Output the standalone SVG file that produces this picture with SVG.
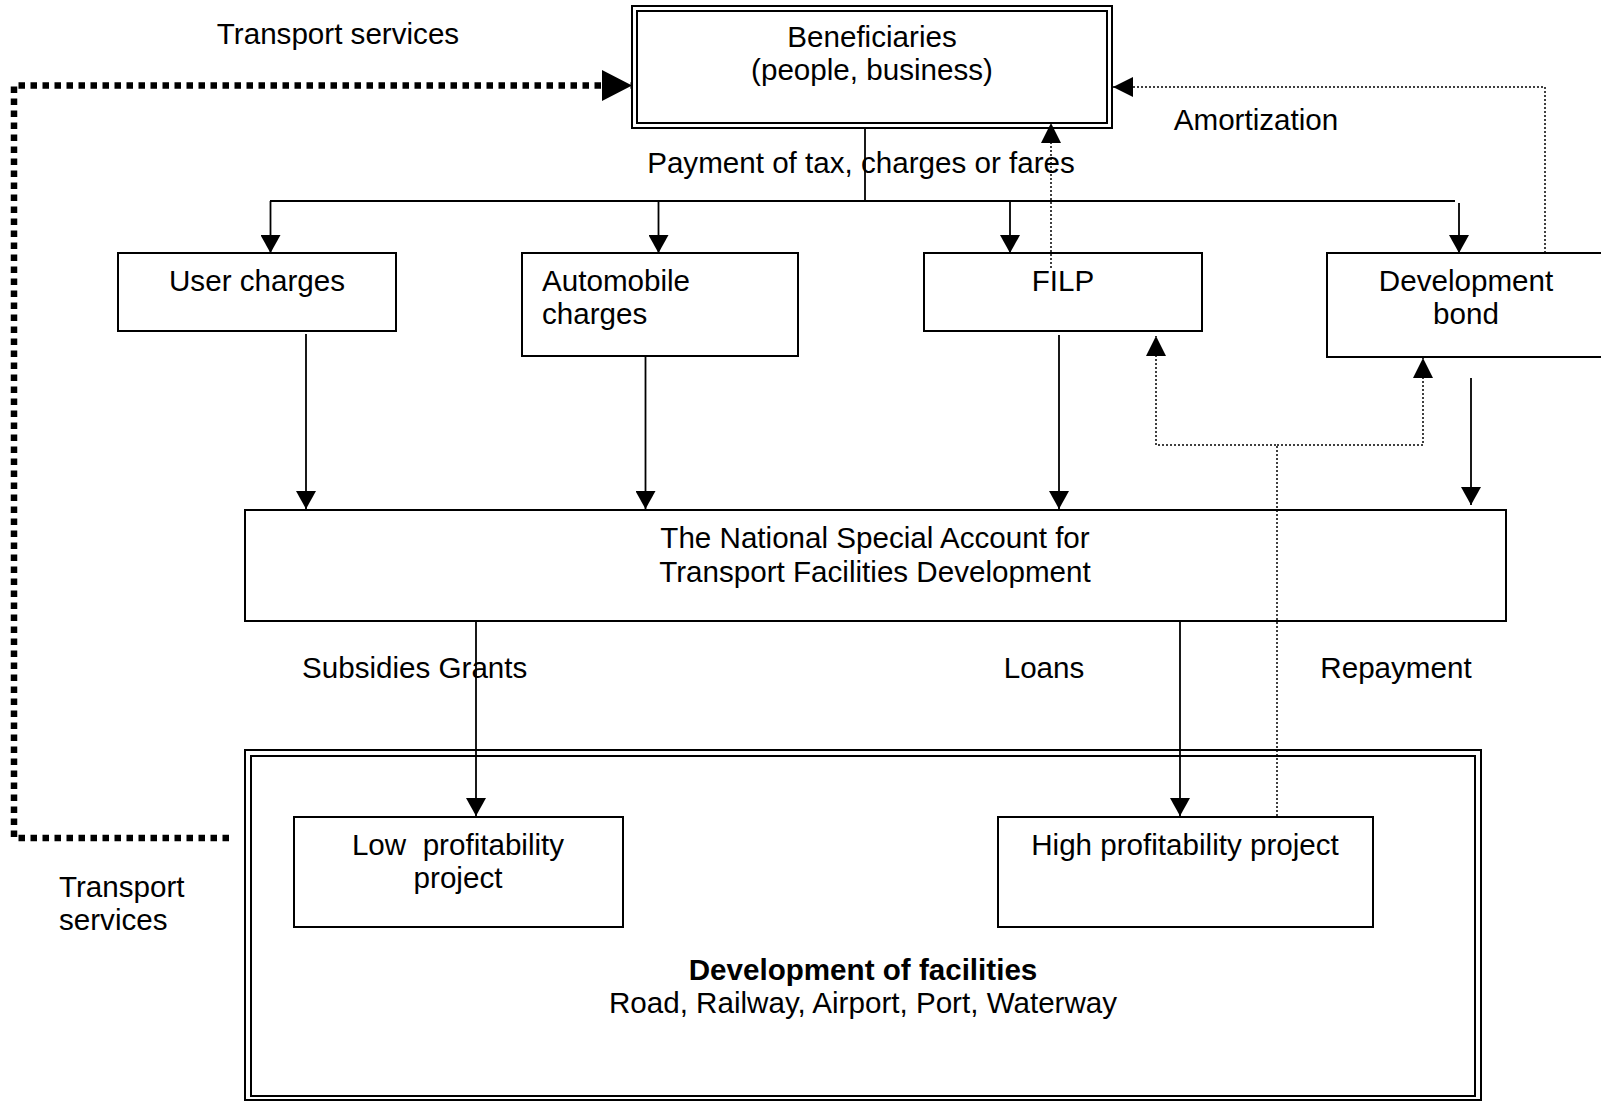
<svg xmlns="http://www.w3.org/2000/svg" width="1601" height="1101" viewBox="0 0 1601 1101">
<style>
text{font-family:"Liberation Sans",Arial,sans-serif;font-size:29.6px;fill:#000}
.c{text-anchor:middle}
.b{font-weight:bold}
.box{fill:#fff;stroke:#000;stroke-width:2}
.dbl{fill:none;stroke:#000;stroke-width:2}
.ln{fill:none;stroke:#000;stroke-width:1.8}
.dot{fill:none;stroke:#000;stroke-width:1.5;stroke-dasharray:2 2}
.thick{fill:none;stroke:#000;stroke-width:6.5;stroke-dasharray:6.5 5.5}
</style>
<defs>
<marker id="a" markerUnits="userSpaceOnUse" markerWidth="18" markerHeight="20" refX="18" refY="10" orient="auto"><path d="M0,0 L18,10 L0,20 z" fill="#000" stroke="none"/></marker>
<marker id="d" markerUnits="userSpaceOnUse" markerWidth="20" markerHeight="20" refX="20" refY="10" orient="auto"><path d="M0,0 L20,10 L0,20 z" fill="#000" stroke="none"/></marker>
<marker id="big" markerUnits="userSpaceOnUse" markerWidth="30" markerHeight="31" refX="30" refY="15.5" orient="auto"><path d="M0,0 L30,15.5 L0,31 z" fill="#000" stroke="none"/></marker>
</defs>
<rect width="1601" height="1101" fill="#fff"/>

<g id="facilities">
<rect x="245" y="750" width="1236" height="350" class="dbl"/>
<rect x="251" y="756" width="1224" height="340" class="dbl"/>
<text x="863" y="980" class="c b">Development of facilities</text>
<text x="863" y="1013" class="c">Road, Railway, Airport, Port, Waterway</text>
</g>

<g id="beneficiaries">
<rect x="632" y="6" width="480" height="122" class="dbl" fill="#fff"/>
<rect x="637" y="11" width="470" height="112" class="dbl"/>
<text x="872" y="47" class="c">Beneficiaries</text>
<text x="872" y="80" class="c">(people, business)</text>
</g>

<g id="user-charges">
<rect x="118" y="253" width="278" height="78" class="box"/>
<text x="257" y="291" class="c">User charges</text>
</g>

<g id="automobile-charges">
<rect x="522" y="253" width="276" height="103" class="box"/>
<text x="542" y="291">Automobile</text>
<text x="542" y="324">charges</text>
</g>

<g id="filp">
<rect x="924" y="253" width="278" height="78" class="box"/>
<text x="1063" y="291" class="c">FILP</text>
</g>

<g id="development-bond">
<rect x="1327" y="253" width="290" height="104" class="box"/>
<text x="1466" y="291" class="c">Development</text>
<text x="1466" y="324" class="c">bond</text>
</g>

<g id="national-account">
<rect x="245" y="510" width="1261" height="111" class="box"/>
<text x="875" y="548" class="c">The National Special Account for</text>
<text x="875" y="582" class="c">Transport Facilities Development</text>
</g>

<g id="low-profitability">
<rect x="294" y="817" width="329" height="110" class="box"/>
<text x="458" y="855" class="c" xml:space="preserve">Low  profitability</text>
<text x="458" y="888" class="c">project</text>
</g>

<g id="high-profitability">
<rect x="998" y="817" width="375" height="110" class="box"/>
<text x="1185" y="855" class="c">High profitability project</text>
</g>

<g id="connectors">
<path d="M865,129 V201" class="ln"/>
<path d="M270,201 H1455" class="ln"/>
<path d="M270.5,201 V253" class="ln" marker-end="url(#a)"/>
<path d="M658.5,201 V253" class="ln" marker-end="url(#a)"/>
<path d="M1010,201 V253" class="ln" marker-end="url(#a)"/>
<path d="M1459,203 V253" class="ln" marker-end="url(#a)"/>
<path d="M306,334 V509" class="ln" marker-end="url(#a)"/>
<path d="M645.5,357 V509" class="ln" marker-end="url(#a)"/>
<path d="M1059,335 V509" class="ln" marker-end="url(#a)"/>
<path d="M1471,378 V505" class="ln" marker-end="url(#a)"/>
<path d="M476,620 V816" class="ln" marker-end="url(#a)"/>
<path d="M1180,620 V816" class="ln" marker-end="url(#a)"/>
<path d="M1051,268 V123" class="dot" marker-end="url(#d)"/>
<path d="M1545,253 V87 H1113" class="dot" marker-end="url(#d)"/>
<path d="M1277,816 V445 H1156 V336" class="dot" marker-end="url(#d)"/>
<path d="M1277,445 H1423 V358" class="dot" marker-end="url(#d)"/>
<path d="M229,838 H14 V85.5 H632" class="thick" marker-end="url(#big)"/>
</g>

<g id="labels">
<text x="338" y="44" class="c">Transport services</text>
<text x="1256" y="130" class="c">Amortization</text>
<text x="861" y="173" class="c">Payment of tax, charges or fares</text>
<text x="302" y="678">Subsidies Grants</text>
<text x="1044" y="678" class="c">Loans</text>
<text x="1396" y="678" class="c">Repayment</text>
<text x="59" y="897">Transport</text>
<text x="59" y="930">services</text>
</g>
</svg>
